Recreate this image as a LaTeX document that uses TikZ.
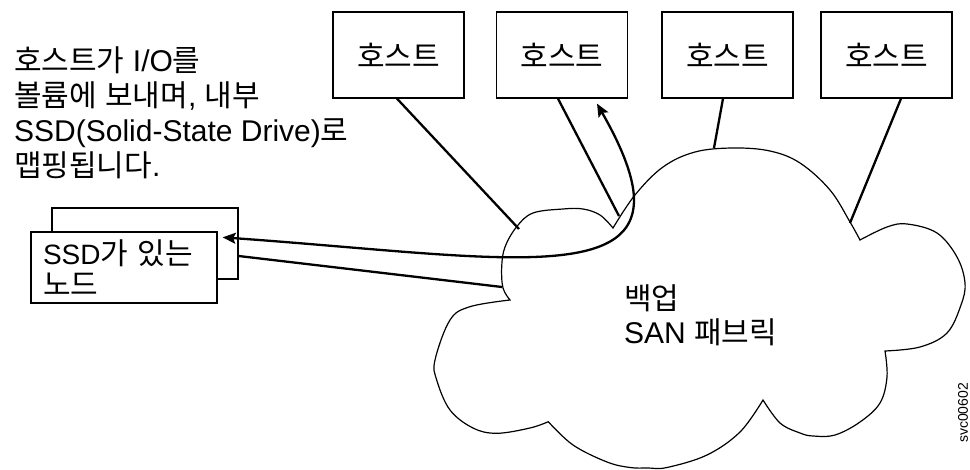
\documentclass[tikz,border=0pt]{standalone}
\usepackage{fontspec}
\setmainfont{Liberation Sans}
\newfontfamily\kr{Noto Sans CJK KR}
\usetikzlibrary{arrows.meta,calc}
\begin{document}
\begin{tikzpicture}[x=1pt,y=-1pt,
  hostbox/.style={draw, line width=1.3pt, minimum width=131pt, minimum height=86pt, inner sep=0pt, font=\kr\fontsize{30}{34}\selectfont},
  ssdbox/.style={draw, fill=white, line width=1.3pt, minimum width=186pt, minimum height=71pt, inner sep=0pt},
  conn/.style={line width=2.3pt},
  cloudline/.style={line width=1.2pt, line join=miter},
  headtip/.tip={Stealth[length=13pt,width=11pt,inset=2.5pt]},
  label/.style={inner sep=0pt, align=left, anchor=north west}
]
\useasboundingbox (0,0) rectangle (970,470);

% cloud
\draw[cloudline]
  plot[smooth,tension=0.6] coordinates {(613,228) (600,215) (583,209) (563,209) (533,213) (516.7,226.7) (505,247) (501.7,266.7) (503,288) (510,300)}
  -- plot[smooth,tension=0.6] coordinates {(510,300) (470,306.7) (450,320) (435,360) (436.7,380) (450,410) (473,428) (496.7,433.3) (530,428) (548.3,421.7)}
  -- plot[smooth,tension=0.6] coordinates {(548.3,421.7) (573,445) (607,462) (630,467.5) (648,468) (667,467.5) (707,455) (740,432) (763,400)}
  -- plot[smooth,tension=0.6] coordinates {(763,400) (780,423) (800,433) (813,436) (835,435) (860,422) (880,403) (887,377) (885,351)}
  -- plot[smooth,tension=0.6] coordinates {(885,351) (920,347) (947,333) (961,305) (965,283) (957,257) (937,233) (907,224) (887,227) (860,240)}
  -- plot[smooth,tension=0.6] coordinates {(860,240) (850,222) (830,190) (800,163) (770,151) (733,148) (695,152) (663,167) (635,195) (613,228)}
  -- cycle;

% hosts
\node[hostbox] (h1) at (398.5,55) {호스트};
\node[hostbox] (h2) at (562,55) {호스트};
\node[hostbox] (h3) at (727.5,55) {호스트};
\node[hostbox] (h4) at (886.5,55) {호스트};

% cloud attachment points
\coordinate (e1) at (519,229);
\coordinate (e2) at (619,216);
\coordinate (e3) at (714,148);
\coordinate (e4) at (850,223);
\coordinate (e5) at (502,287);

% SSD node (two stacked boxes)
\node[ssdbox] (ssdback) at (145,243.5) {};
\node[ssdbox, align=left, text width=162pt, font=\fontsize{28}{31}\selectfont] (ssd) at (124,267.5)
  {SSD{\kr\fontsize{30}{31}\selectfont 가} {\kr\fontsize{30}{31}\selectfont 있는}\\{\kr\fontsize{30}{31}\selectfont 노드}};

% connectors
\draw[conn] ([xshift=-1.5pt]h1.south) -- (e1);
\draw[conn] ([xshift=-4pt]h2.south) -- (e2);
\draw[conn] ([xshift=-4.5pt]h3.south) -- (e3);
\draw[conn] ([xshift=14.5pt]h4.south) -- (e4);
\draw[conn] ($(ssdback.east)+(0,12.5)$) -- (e5);
\draw[conn, headtip-headtip] ($(ssd.north east)+(5,6)$)
  .. controls (472,255) and (634,285) .. (634,200)
  .. controls (634,170) and (612,130) .. ($(h2.south)+(35,5)$);

% texts
\node[label, font=\fontsize{30}{35}\selectfont] (desc) at (14,46)
  {{\kr 호스트가} I/O{\kr 를}\\{\kr 볼륨에} {\kr 보내며}, {\kr 내부}\\SSD(Solid-State Drive){\kr 로}\\{\kr 맵핑됩니다}.};
\node[label, font=\fontsize{30}{34}\selectfont] (san) at (624,284)
  {{\kr 백업}\\SAN {\kr 패브릭}};
\node[rotate=90, font=\fontsize{14}{14}\selectfont, inner sep=0pt] (svc) at (963,413) {svc00602};
\end{tikzpicture}
\end{document}
